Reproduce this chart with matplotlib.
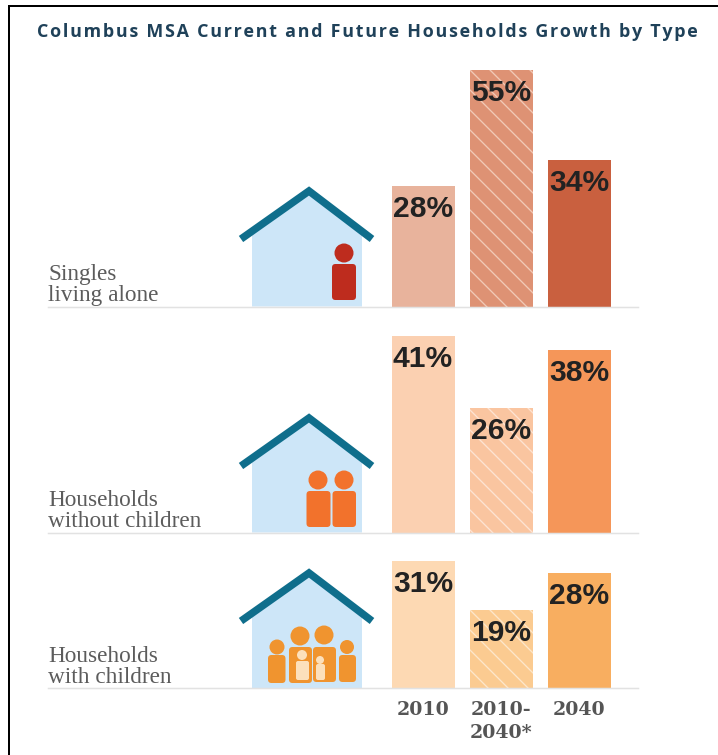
import matplotlib
matplotlib.use("Agg")
import matplotlib.pyplot as plt
from matplotlib.patches import Circle, FancyBboxPatch, Polygon

DPI = 120
W, H = 718, 755
PT = 72 / DPI  # one pixel in points

years = ["2010", "2010-\n2040*", "2040"]
row_names = ["Singles\nliving alone", "Households\nwithout children", "Households\nwith children"]
singles = [28, 55, 34]
no_children = [41, 26, 38]
with_children = [31, 19, 28]

singles_colors = ["#E8B39C", "#DE9274", "#C9603F"]
no_children_colors = ["#FBD0B1", "#FAC5A0", "#F59659"]
with_children_colors = ["#FDD9B3", "#FBCB91", "#F8AE60"]
hatch_colors = ["#F1C9B6", "#FDE3D2", "#FDE6CB"]

baselines = [306.5, 532.5, 688]
px_per_percent = [4.3, 4.8, 4.1]
house_shift = [0, 227, 382]

plt.rcParams["hatch.linewidth"] = 0.8

fig = plt.figure(figsize=(W / DPI, H / DPI), dpi=DPI, facecolor="white")

# full-size layer in pixel units for the frame, houses and text
bg = fig.add_axes([0, 0, 1, 1])
bg.set_xlim(0, W)
bg.set_ylim(H, 0)
bg.axis("off")

bg.plot([9, 9, W], [H, 5.8, 5.8], color="black", lw=2 * PT, solid_joinstyle="miter", solid_capstyle="butt")

title = "Columbus MSA Current and Future Households Growth by Type"
bg.text(37, 32, "\u200a".join(title), family="Open Sans", weight="bold", fontsize=17.85 * PT,
        color="#1F4159", va="center", ha="left")


def person(cx, head_y, head_r, x0, x1, y0, y1, color):
    bg.add_patch(Circle((cx, head_y), head_r, fc=color, ec="none", zorder=3))
    bg.add_patch(FancyBboxPatch((x0, y0), x1 - x0, y1 - y0, boxstyle="round,pad=0,rounding_size=3.5",
                                fc=color, ec="none", zorder=3))


def draw_house(dy, base):
    bg.add_patch(Polygon([(252, base), (252, 232 + dy), (309, 192 + dy), (362, 232 + dy), (362, base)],
                         fc="#CDE6F8", ec="none", zorder=1))
    bg.plot([241, 309, 372], [239 + dy, 191 + dy, 239 + dy], color="#0F6E8C", lw=7.5 * PT,
            solid_joinstyle="miter", solid_capstyle="butt", zorder=2)


for dy, base in zip(house_shift, baselines):
    draw_house(dy, base)

person(344, 253, 9.5, 332, 356, 264, 300, "#BE2C1E")

person(318, 480, 9.5, 306.5, 330.5, 491, 527, "#F2722C")
person(344, 480, 9.5, 332.5, 356, 491, 527, "#F2722C")

# family of four plus two children in front
orange = "#F0942F"
pale = "#FCE0BC"
person(277, 647, 7.5, 268, 285.5, 655, 683, orange)
person(300, 636, 9.5, 289, 312, 647, 683, orange)
person(324, 635, 9.5, 313, 336, 647, 682, orange)
person(347, 647, 7, 339, 356, 655, 682, orange)
bg.add_patch(Circle((302, 655), 5, fc=pale, ec="none", zorder=4))
bg.add_patch(FancyBboxPatch((296, 661), 13, 19, boxstyle="round,pad=0,rounding_size=2", fc=pale, ec="none", zorder=4))
bg.add_patch(Circle((320, 660), 4, fc=pale, ec="none", zorder=4))
bg.add_patch(FancyBboxPatch((316, 664), 9, 16, boxstyle="round,pad=0,rounding_size=2", fc=pale, ec="none", zorder=4))

label_y = [295, 521, 677]
for name, y in zip(row_names, label_y):
    bg.text(48, y + 6, name, family="Liberation Serif", fontsize=23.3 * PT, color="#5C5C5C",
            va="baseline", ha="left", linespacing=0.98)

rows = [
    (singles, singles_colors),
    (no_children, no_children_colors),
    (with_children, with_children_colors),
]

# one axes per row, bars sit on its bottom spine
for i, (values, colors) in enumerate(rows):
    base = baselines[i]
    scale = px_per_percent[i]
    top_val = 60
    ax_h = top_val * scale
    ax = fig.add_axes([48 / W, (H - base) / H, (638 - 48) / W, ax_h / H])
    ax.patch.set_alpha(0)
    ax.set_xlim((48 - 423) / 78, (638 - 423) / 78)
    ax.set_ylim(0, top_val)
    for side in ["top", "left", "right"]:
        ax.spines[side].set_visible(False)
    ax.spines["bottom"].set_color("#E2E2E2")
    ax.spines["bottom"].set_linewidth(1.5 * PT)
    ax.set_yticks([])

    bars = ax.bar(range(3), values, width=63 / 78, color=colors, linewidth=0)
    bars[1].set_hatch("\\\\")
    bars[1].set_edgecolor(hatch_colors[i])

    for j, v in enumerate(values):
        ax.annotate(f"{v}%", (j, v), xytext=(0, -23 * PT), textcoords="offset points",
                    ha="center", va="center", family="Liberation Sans", weight="bold",
                    fontsize=30 * PT, color="#222222")

    if i == 2:
        ax.set_xticks(range(3), years, family="DejaVu Serif", weight="bold", fontsize=19 * PT,
                      color="#555555", linespacing=1.35)
        ax.tick_params(axis="x", length=0, pad=13 * PT)
    else:
        ax.set_xticks([])

fig.savefig("out.png", dpi=DPI)
